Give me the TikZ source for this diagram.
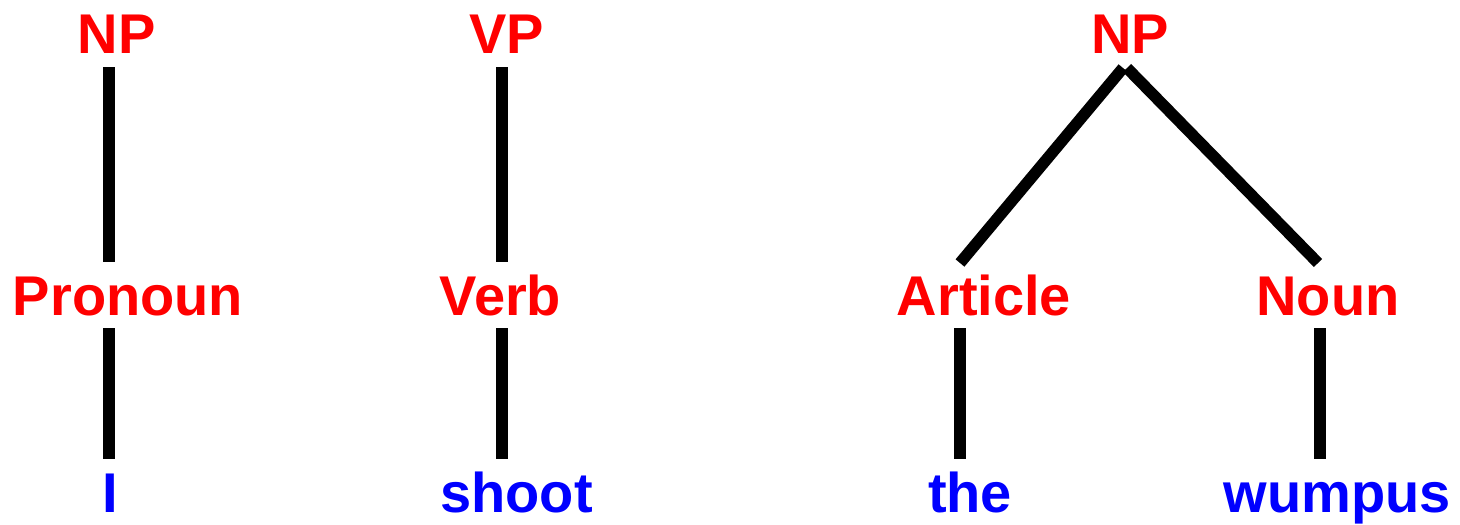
\documentclass[tikz,border=0pt]{standalone}
\usepackage{fontspec}
\setmainfont{Liberation Sans}
\begin{document}
\begin{tikzpicture}[x=1pt,y=-1pt,
  cat/.style={anchor=base,inner sep=0pt,text=red,font=\fontsize{56}{60}\selectfont\bfseries},
  word/.style={anchor=base,inner sep=0pt,text=blue,font=\fontsize{56}{60}\selectfont\bfseries},
  branch/.style={line width=11.5pt,black,line cap=butt}]
\useasboundingbox (0,0) rectangle (1460,525);
% tree 1
\node[cat] (np1) at (116.5,53) {NP};
\node[cat] (pron) at (128,315) {Pronoun};
\node[word] (i) at (110.5,512) {I};
\coordinate (np1b) at (109,67);
\coordinate (pront) at (109,262);
\coordinate (pronb) at (109,328);
\coordinate (it) at (109,459);
\draw[branch] (np1b) -- (pront);
\draw[branch] (pronb) -- (it);
% tree 2
\node[cat] (vp) at (506.5,53) {VP};
\node[cat] (verb) at (500.5,315) {Verb};
\node[word] (shoot) at (516.5,512) {shoot};
\coordinate (vpb) at (502,67);
\coordinate (verbt) at (502,262);
\coordinate (verbb) at (502,328);
\coordinate (shoott) at (502,459);
\draw[branch] (vpb) -- (verbt);
\draw[branch] (verbb) -- (shoott);
% tree 3
\node[cat] (np2) at (1130,53) {NP};
\node[cat] (art) at (984,315) {Article};
\node[cat] (noun) at (1328,315) {Noun};
\node[word] (the) at (970,512) {the};
\node[word] (wumpus) at (1337.5,512) {wumpus};
\coordinate (np2l) at (1123,68);
\coordinate (np2r) at (1127,68);
\coordinate (artt) at (960,263);
\coordinate (nount) at (1318,263);
\coordinate (artb) at (960,328);
\coordinate (thet) at (960,459);
\coordinate (nounb) at (1320,328);
\coordinate (wumpust) at (1320,459);
\draw[branch] (np2l) -- (artt);
\draw[branch] (np2r) -- (nount);
\draw[branch] (artb) -- (thet);
\draw[branch] (nounb) -- (wumpust);
\end{tikzpicture}
\end{document}
